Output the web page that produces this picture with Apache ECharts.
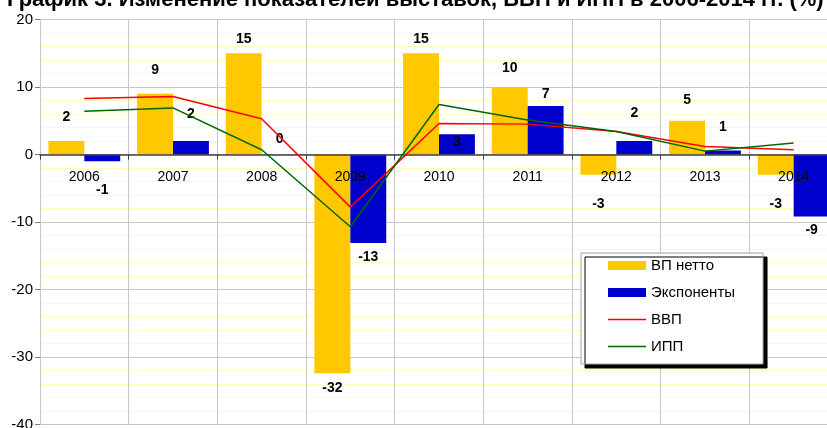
<!DOCTYPE html>
<html>
<head>
<meta charset="utf-8">
<script src="https://cdn.jsdelivr.net/npm/echarts@6/dist/echarts.min.js"></script>
<style>
html, body { margin: 0; padding: 0; background: #fff; }
#chart { width: 827px; height: 428px; }
</style>
</head>
<body>
<div id="chart"></div>
<script>
/*#################  данные  #####################*/
var years = ['2006', '2007', '2008', '2009', '2010', '2011', '2012', '2013', '2014'];
var vpNetto = [2, 9, 15, -32.4, 15, 10, -3, 5, -3];
var exponents = [-1, 2, 0, -13.1, 3, 7.2, 2, 0.6, -9.2];
var vvp = [8.3, 8.6, 5.3, -7.8, 4.6, 4.5, 3.4, 1.2, 0.7];
var ipp = [6.4, 6.9, 0.7, -10.7, 7.4, 5.1, 3.4, 0.5, 1.7];

/*#################  подписи столбцов (отступ, px)  #####################*/
var vpGap = [17, 17, 7, 8, 7, 12, 22, 14, 22];
var expGap = [22, 20, 8, 7, -1, 5, 21, 16, 7];

function barItems(vals, gaps) {
    return vals.map(function (v, i) {
        var pos = v < 0 ? 'bottom' : 'top';
        var d = gaps[i];
        if (d < 0) { pos = 'insideTop'; d = 1; }
        return { value: v, label: { position: pos, distance: d } };
    });
}

var labelStyle = {
    show: true,
    color: '#000',
    fontFamily: 'Liberation Sans',
    fontSize: 14,
    fontWeight: 'bold',
    formatter: function (p) { return Math.round(p.value); }
};

var lineIcon = 'path://M0,0H38V1.5H0Z';

var dom = document.getElementById('chart');
var myChart = echarts.init(dom);

var option = {
    animation: false,
    backgroundColor: '#fff',
    title: {
        text: 'График 3. Изменение показателей выставок, ВВП и ИПП в 2006-2014 гг. (%)',
        left: 7,
        top: -11,
        padding: 0,
        textStyle: {
            fontFamily: 'Liberation Sans',
            fontSize: 22,
            fontWeight: 'bold',
            color: '#000'
        }
    },
    legend: {
        orient: 'vertical',
        left: 581,
        top: 253,
        padding: [5, 28, 10, 27],
        itemGap: 12,
        itemWidth: 38,
        itemHeight: 9,
        backgroundColor: '#fff',
        borderColor: '#a0a0a0',
        borderWidth: 1,
        shadowColor: '#000',
        shadowBlur: 0,
        shadowOffsetX: 4,
        shadowOffsetY: 4,
        textStyle: {
            fontFamily: 'Liberation Sans',
            fontSize: 15,
            color: '#000'
        },
        data: [
            { name: 'ВП нетто', icon: 'rect' },
            { name: 'Экспоненты', icon: 'rect' },
            { name: 'ВВП', icon: lineIcon },
            { name: 'ИПП', icon: lineIcon }
        ]
    },
    grid: {
        left: 40,
        width: 798,
        top: 19.5,
        bottom: 3.5,
        outerBoundsMode: 'none'
    },
    xAxis: {
        type: 'category',
        data: years,
        z: 3,
        offset: -270,
        axisLine: { onZero: false, lineStyle: { color: '#404040', width: 1.5 } },
        axisTick: { show: true, interval: 0, length: 5, lineStyle: { color: '#404040' } },
        splitLine: { show: true, interval: 0, lineStyle: { color: '#c8c8c8' } },
        axisLabel: {
            margin: 16,
            color: '#000',
            fontFamily: 'Liberation Sans',
            fontSize: 14
        }
    },
    yAxis: {
        type: 'value',
        min: -40,
        max: 20,
        interval: 10,
        axisLine: { show: true, lineStyle: { color: '#a0a0a0' } },
        axisTick: { show: true, length: 5, lineStyle: { color: '#808080' } },
        axisLabel: {
            margin: 7,
            color: '#000',
            fontFamily: 'Liberation Sans',
            fontSize: 15
        },
        splitLine: { lineStyle: { color: '#c8c8c8' } },
        minorTick: { show: false, splitNumber: 5 },
        minorSplitLine: { show: true, lineStyle: { color: '#ffffb8' } }
    },
    series: [
        {
            name: 'ВП нетто',
            type: 'bar',
            barGap: 0,
            barCategoryGap: '19%',
            itemStyle: { color: '#ffc800' },
            label: labelStyle,
            data: barItems(vpNetto, vpGap)
        },
        {
            name: 'Экспоненты',
            type: 'bar',
            itemStyle: { color: '#0000cc' },
            label: labelStyle,
            data: barItems(exponents, expGap)
        },
        {
            name: 'ВВП',
            type: 'line',
            symbol: 'none',
            z: 4,
            lineStyle: { color: '#ff0000', width: 1.5 },
            itemStyle: { color: '#ff0000' },
            data: vvp
        },
        {
            name: 'ИПП',
            type: 'line',
            symbol: 'none',
            z: 4,
            lineStyle: { color: '#006600', width: 1.5 },
            itemStyle: { color: '#006600' },
            data: ipp
        }
    ]
};

myChart.setOption(option);
</script>
</body>
</html>
